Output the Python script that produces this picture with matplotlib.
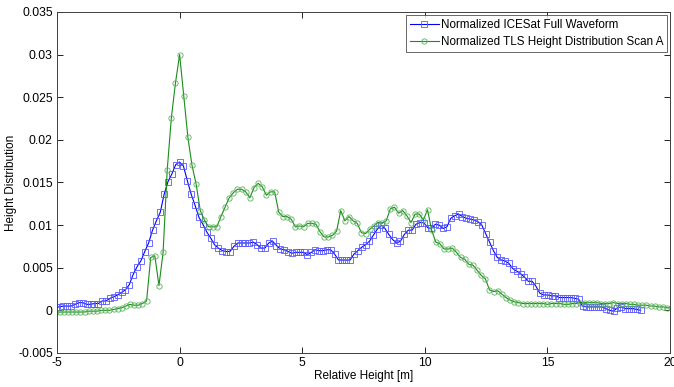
import numpy as np
import matplotlib
matplotlib.use('Agg')
import matplotlib.pyplot as plt

plt.rcParams['font.family'] = ['Liberation Sans', 'DejaVu Sans']

#   Data
# ICESat waveform, sampled every ~0.158 m, sample 32 sits on 0 m
icesat_start = -5.056
icesat_step = 0.158
icesat_vals = [
    0.0004, 0.0004, 0.0005, 0.0005, 0.0005, 0.0007, 0.0009, 0.0009, 0.0007, 0.0007,
    0.0008, 0.0008, 0.0011, 0.0011, 0.0014, 0.0016, 0.0018, 0.0021, 0.0024, 0.0030,
    0.0042, 0.0051, 0.0058, 0.0069, 0.0079, 0.0094, 0.0105, 0.0115, 0.0136, 0.0151,
    0.0160, 0.0171, 0.0174, 0.0169, 0.0152, 0.0136, 0.0123, 0.0109, 0.0101, 0.0092,
    0.0085, 0.0077, 0.0073, 0.0070, 0.0069, 0.0069, 0.0075, 0.0079, 0.0079, 0.0079,
    0.0079, 0.0080, 0.0077, 0.0073, 0.0073, 0.0079, 0.0081, 0.0076, 0.0072, 0.0071,
    0.0069, 0.0067, 0.0068, 0.0068, 0.0068, 0.0065, 0.0068, 0.0071, 0.0070, 0.0070,
    0.0071, 0.0071, 0.0066, 0.0059, 0.0059, 0.0059, 0.0059, 0.0066, 0.0070, 0.0074,
    0.0077, 0.0081, 0.0088, 0.0095, 0.0100, 0.0096, 0.0089, 0.0083, 0.0079, 0.0081,
    0.0089, 0.0094, 0.0094, 0.0101, 0.0103, 0.0103, 0.0097, 0.0096, 0.0101, 0.0100,
    0.0096, 0.0098, 0.0108, 0.0111, 0.0113, 0.0110, 0.0108, 0.0107, 0.0106, 0.0104,
    0.0100, 0.0090, 0.0080, 0.0070, 0.0062, 0.0059, 0.0058, 0.0055, 0.0049, 0.0046,
    0.0043, 0.0039, 0.0034, 0.0034, 0.0028, 0.0020, 0.0018, 0.0018, 0.0017, 0.0017,
    0.0015, 0.0015, 0.0015, 0.0015, 0.0014, 0.0013, 0.0005, 0.0004, 0.0004, 0.0004,
    0.0004, 0.0004, 0.0002, 0.0000, -0.0001, 0.0003, 0.0004, 0.0002, 0.0002, 0.0002,
    0.0001, 0.0000,
]

# TLS height distribution, sampled every ~0.1685 m, sample 30 sits on 0 m
tls_start = -5.055
tls_step = 0.1685
tls_vals = [
    -0.0002, -0.0002, -0.0002, -0.0002, -0.0002, -0.0002, -0.0002, -0.0002, -0.0001, -0.0001,
    -0.0001, 0.0000, 0.0000, 0.0000, 0.0001, 0.0002, 0.0003, 0.0005, 0.0007, 0.0006,
    0.0006, 0.0008, 0.0011, 0.0062, 0.0064, 0.0029, 0.0068, 0.0165, 0.0226, 0.0267,
    0.0300, 0.0251, 0.0203, 0.0170, 0.0148, 0.0117, 0.0106, 0.0098, 0.0098, 0.0098,
    0.0110, 0.0121, 0.0132, 0.0138, 0.0142, 0.0142, 0.0139, 0.0132, 0.0144, 0.0149,
    0.0145, 0.0135, 0.0139, 0.0139, 0.0115, 0.0110, 0.0110, 0.0107, 0.0098, 0.0099,
    0.0098, 0.0102, 0.0102, 0.0101, 0.0092, 0.0086, 0.0086, 0.0088, 0.0093, 0.0117,
    0.0105, 0.0110, 0.0105, 0.0102, 0.0091, 0.0090, 0.0095, 0.0099, 0.0103, 0.0102,
    0.0105, 0.0119, 0.0121, 0.0114, 0.0117, 0.0111, 0.0103, 0.0113, 0.0113, 0.0106,
    0.0118, 0.0094, 0.0080, 0.0078, 0.0072, 0.0072, 0.0073, 0.0068, 0.0062, 0.0060,
    0.0054, 0.0053, 0.0047, 0.0041, 0.0037, 0.0024, 0.0022, 0.0023, 0.0019, 0.0015,
    0.0012, 0.0010, 0.0009, 0.0008, 0.0008, 0.0008, 0.0008, 0.0008, 0.0008, 0.0007,
    0.0008, 0.0008, 0.0008, 0.0007, 0.0007, 0.0008, 0.0008, 0.0009, 0.0009, 0.0009,
    0.0009, 0.0009, 0.0008, 0.0008, 0.0008, 0.0009, 0.0008, 0.0008, 0.0008, 0.0007,
    0.0007, 0.0006, 0.0006, 0.0006, 0.0005, 0.0005, 0.0004, 0.0004, 0.0003, 0.0003,
]

x_ticks = [-5, 0, 5, 10, 15, 20]
y_ticks = [-0.005, 0, 0.005, 0.01, 0.015, 0.02, 0.025, 0.03, 0.035]
y_ticklabels = ['-0.005', '0', '0.005', '0.01', '0.015', '0.02', '0.025', '0.03', '0.035']

icesat_x = icesat_start + icesat_step * np.arange(len(icesat_vals))
tls_x = tls_start + tls_step * np.arange(len(tls_vals))

#   Plot
fig = plt.figure(figsize=(6.74, 3.87), dpi=100)
ax = fig.add_axes([0.0846, 0.088, 0.9095, 0.881])

ax.plot(icesat_x, icesat_vals, '-s', color='b', lw=0.8, ms=3.8, mew=0.6,
        mfc='none', mec=(0.35, 0.35, 1.0), label='Normalized ICESat Full Waveform')
ax.plot(tls_x, tls_vals, '-o', color=(0.1, 0.55, 0.1), lw=0.8, ms=3.8, mew=0.6,
        mfc='none', mec=(0.35, 0.7, 0.35), label='Normalized TLS Height Distribution Scan A')

ax.set_xlim(-5, 20)
ax.set_ylim(-0.005, 0.035)
ax.set_xticks(x_ticks)
ax.set_xticklabels([str(t) for t in x_ticks])
ax.set_yticks(y_ticks)
ax.set_yticklabels(y_ticklabels)
ax.tick_params(direction='in', top=True, right=True, length=4, width=0.6,
               labelsize=8.8, colors='black', pad=3)
for s in ax.spines.values():
    s.set_linewidth(0.7)
    s.set_color('#404040')

ax.set_xlabel('Relative Height [m]', fontsize=8.5, labelpad=1)
ax.set_ylabel('Height Distribution', fontsize=8.5)
ax.yaxis.set_label_coords(-0.066, 0.5)

leg = ax.legend(loc='upper right', fontsize=8.4, frameon=True, fancybox=False,
                borderaxespad=0.25, handlelength=2.5, borderpad=0.35,
                labelspacing=0.45, handletextpad=0.15)
leg.get_frame().set_edgecolor('#404040')
leg.get_frame().set_linewidth(0.7)

plt.savefig('out.png', dpi=100)
